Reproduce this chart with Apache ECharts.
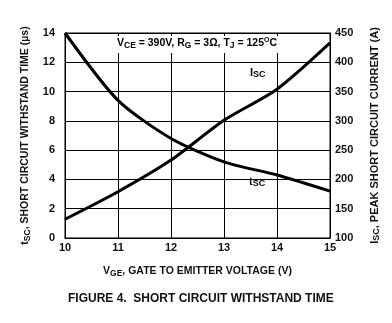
<!DOCTYPE html>
<html>
<head>
<meta charset="utf-8">
<script src="https://cdn.jsdelivr.net/npm/echarts@6/dist/echarts.min.js"></script>
<style>
  html, body { margin: 0; padding: 0; background: #fff; }
  #chart { width: 392px; height: 323px; }
</style>
</head>
<body>
<div id="chart"></div>
<script>
// Gate voltage sweep and measured curves
const vge = [10, 11, 12, 13, 14, 15];
const tsc = [14.0, 9.4, 6.8, 5.2, 4.3, 3.2];      // µs
const isc = [132, 179, 233, 301, 354, 433];        // A
const leftTicks = { min: 0, max: 14, interval: 2 };
const rightTicks = { min: 100, max: 450, interval: 50 };

const FONT = '"Liberation Sans", Arial, sans-serif';
const chart = echarts.init(document.getElementById('chart'));

const sub = { fontSize: 9, fontWeight: 'bold', fontFamily: FONT, color: '#111', verticalAlign: 'bottom', padding: [4, 0, 0, 0] };
const base = { fontSize: 11, fontWeight: 'bold', fontFamily: FONT, color: '#111' };
const subS = { fontSize: 8.5, fontWeight: 'bold', fontFamily: FONT, color: '#111', verticalAlign: 'bottom', padding: [4, 0, 0, 0] };
const baseS = { fontSize: 10.5, fontWeight: 'bold', fontFamily: FONT, color: '#111' };

chart.setOption({
  animation: false,
  grid: { left: 65, right: 62, top: 33, bottom: 85, show: true, borderColor: '#000', borderWidth: 1 },
  xAxis: {
    type: 'value', min: 10, max: 15, interval: 1,
    axisLine: { lineStyle: { color: '#000', width: 1 } },
    axisTick: { show: false },
    axisLabel: { color: '#111', fontSize: 11, fontWeight: 'bold', fontFamily: FONT, margin: 4 },
    splitLine: { show: true, lineStyle: { color: '#000', width: 1 } },
    name: '{b|V}{s|GE}{b|, GATE TO EMITTER VOLTAGE (V)}',
    nameLocation: 'middle', nameGap: 27,
    nameTextStyle: { rich: { b: baseS, s: subS } }
  },
  yAxis: [
    {
      type: 'value', position: 'left', ...leftTicks,
      axisLine: { show: true, lineStyle: { color: '#000' } },
      axisTick: { show: false },
      axisLabel: { color: '#111', fontSize: 11, fontWeight: 'bold', fontFamily: FONT, margin: 10 },
      splitLine: { show: true, lineStyle: { color: '#000', width: 1 } },
      name: '{b|t}{s|SC}{b|, SHORT CIRCUIT WITHSTAND TIME (µs)}',
      nameLocation: 'middle', nameGap: 33, nameRotate: 90,
      nameTextStyle: { rich: { b: baseS, s: subS } }
    },
    {
      type: 'value', position: 'right', ...rightTicks,
      axisLine: { show: true, lineStyle: { color: '#000' } },
      axisTick: { show: false },
      axisLabel: { color: '#111', fontSize: 11, fontWeight: 'bold', fontFamily: FONT, margin: 5 },
      splitLine: { show: false },
      name: '{b|I}{s|SC}{b|, PEAK SHORT CIRCUIT CURRENT (A)}',
      nameLocation: 'middle', nameGap: 38, nameRotate: 90,
      nameTextStyle: { rich: { b: base, s: sub } }
    }
  ],
  series: [
    {
      type: 'line', yAxisIndex: 0, data: vge.map((v, i) => [v, tsc[i]]),
      smooth: 0.25, showSymbol: false, lineStyle: { color: '#000', width: 3 }
    },
    {
      type: 'line', yAxisIndex: 1, data: vge.map((v, i) => [v, isc[i]]),
      smooth: 0.25, showSymbol: false, lineStyle: { color: '#000', width: 3 }
    }
  ],
  graphic: [
    {
      type: 'rect', left: 113, top: 36, shape: { width: 172, height: 17 },
      style: { fill: '#fff' }, z: 50
    },
    {
      type: 'text', left: 117, top: 37, z: 51,
      style: {
        text: '{b|V}{s|CE}{b| = 390V, R}{s|G}{b| = 3Ω, T}{s|J}{b| = 125}{u|O}{b|C}',
        rich: {
          b: baseS, s: subS,
          u: { fontSize: 7, fontWeight: 'bold', fontFamily: FONT, color: '#111', verticalAlign: 'top', padding: [0, 0, 4, 0] }
        }
      }
    },
    {
      type: 'text', left: 250, top: 67, z: 51,
      style: { text: '{b|I}{s|SC}', rich: { b: base, s: sub } }
    },
    {
      type: 'text', left: 249, top: 176, z: 51,
      style: { text: '{b|t}{s|SC}', rich: { b: base, s: sub } }
    },
    {
      type: 'text', left: 68, top: 293, z: 51,
      style: { text: 'FIGURE 4.  SHORT CIRCUIT WITHSTAND TIME', font: 'bold 12px ' + FONT, fill: '#111' }
    }
  ]
});
</script>
</body>
</html>
